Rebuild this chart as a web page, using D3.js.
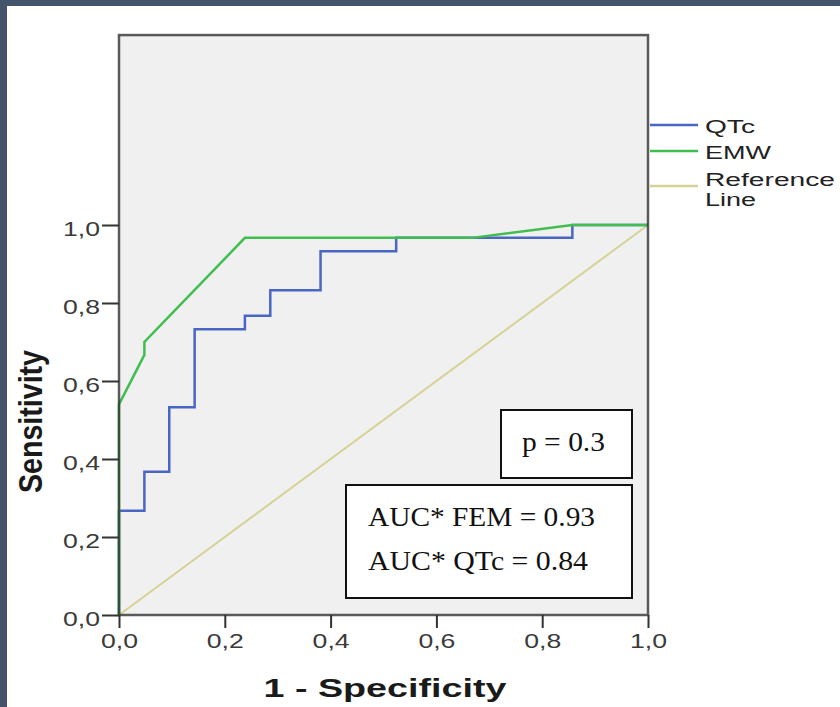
<!DOCTYPE html>
<html>
<head>
<meta charset="utf-8">
<script src="https://cdn.jsdelivr.net/npm/d3@7"></script>
<style>
  html, body { margin: 0; padding: 0; background: #fff; }
  svg { display: block; }
</style>
</head>
<body>
<svg id="chart" width="840" height="707"></svg>
<script>
// ---- data ----
const qtcFpr = [0, 0, 0.048, 0.048, 0.095, 0.095, 0.143, 0.143, 0.238, 0.238, 0.286, 0.286, 0.381, 0.381, 0.524, 0.524, 0.857, 0.857, 1];
const qtcTpr = [0, 0.267, 0.267, 0.367, 0.367, 0.533, 0.533, 0.733, 0.733, 0.767, 0.767, 0.833, 0.833, 0.933, 0.933, 0.967, 0.967, 1, 1];
const emwFpr = [0, 0, 0.048, 0.048, 0.238, 0.667, 0.857, 1];
const emwTpr = [0, 0.54, 0.667, 0.7, 0.967, 0.967, 1, 1];
const refFpr = [0, 1];
const refTpr = [0, 1];
const xTicks = [0, 0.2, 0.4, 0.6, 0.8, 1.0];
const yTicks = [0, 0.2, 0.4, 0.6, 0.8, 1.0];
const seriesNames = ["QTc", "EMW", "Reference", "Line"];
const annotP = ["p = 0.3"];
const annotAuc = ["AUC* FEM = 0.93", "AUC* QTc = 0.84"];
const frameTop = 1.487;

const colors = { qtc: "#4a66c4", emw: "#40be50", ref: "#d6d296" };

const svg = d3.select("#chart");

// dark border strips
svg.append("rect").attr("x", 0).attr("y", 0).attr("width", 840).attr("height", 6).attr("fill", "#44546a");
svg.append("rect").attr("x", 0).attr("y", 0).attr("width", 7).attr("height", 707).attr("fill", "#44546a");

const x = d3.scaleLinear().domain([0, 1]).range([119, 648]);
const y = d3.scaleLinear().domain([0, 1]).range([615, 225]);

// plot background
svg.append("rect")
  .attr("x", x(0)).attr("y", y(frameTop))
  .attr("width", x(1) - x(0)).attr("height", y(0) - y(frameTop))
  .attr("fill", "#f0f0f0");

const line = d3.line().x(d => x(d[0])).y(d => y(d[1]));
const zip = (a, b) => a.map((v, i) => [v, b[i]]);

svg.append("path").datum(zip(refFpr, refTpr)).attr("d", line)
  .attr("fill", "none").attr("stroke", colors.ref).attr("stroke-width", 2);
svg.append("path").datum(zip(qtcFpr, qtcTpr)).attr("d", line)
  .attr("fill", "none").attr("stroke", colors.qtc).attr("stroke-width", 2.5);
svg.append("path").datum(zip(emwFpr, emwTpr)).attr("d", line)
  .attr("fill", "none").attr("stroke", colors.emw).attr("stroke-width", 2.5);

// frame over lines
svg.append("rect")
  .attr("x", x(0)).attr("y", y(frameTop))
  .attr("width", x(1) - x(0)).attr("height", y(0) - y(frameTop))
  .attr("fill", "none").attr("stroke", "rgba(50,50,50,0.8)").attr("stroke-width", 2.5);

const fmt = d => d3.format(".1f")(d).replace(".", ",");
const sans = "Liberation Sans, Arial, sans-serif";
const serif = "Liberation Serif, Times New Roman, serif";

// y axis
const gy = svg.append("g").attr("transform", `translate(${x(0)},0)`)
  .call(d3.axisLeft(y).tickValues(yTicks).tickSize(17).tickPadding(2).tickFormat(fmt));
gy.select(".domain").remove();
gy.selectAll(".tick line").attr("stroke", "#333").attr("stroke-width", 2);
gy.selectAll(".tick text")
  .attr("font-family", sans).attr("font-size", 20)
  .attr("fill", "#3a3a3a").attr("dy", "0.52em")
  .attr("textLength", 37).attr("lengthAdjust", "spacingAndGlyphs");

// x axis
const gx = svg.append("g").attr("transform", `translate(0,${y(0)})`)
  .call(d3.axisBottom(x).tickValues(xTicks).tickSize(13).tickPadding(6).tickFormat(fmt));
gx.select(".domain").remove();
gx.selectAll(".tick line").attr("stroke", "#333").attr("stroke-width", 2);
gx.selectAll(".tick text")
  .attr("font-family", sans).attr("font-size", 20)
  .attr("fill", "#3a3a3a")
  .attr("textLength", 37).attr("lengthAdjust", "spacingAndGlyphs");

// axis titles
svg.append("text")
  .attr("x", 385).attr("y", 697)
  .attr("text-anchor", "middle")
  .attr("font-family", sans).attr("font-weight", "bold")
  .attr("font-size", 25).attr("fill", "#1a1a1a")
  .attr("textLength", 243).attr("lengthAdjust", "spacingAndGlyphs")
  .text("1 - Specificity");

svg.append("text")
  .attr("transform", "translate(42,421.5) rotate(-90)")
  .attr("text-anchor", "middle")
  .attr("font-family", sans).attr("font-weight", "bold")
  .attr("font-size", 33).attr("fill", "#1a1a1a")
  .attr("textLength", 143).attr("lengthAdjust", "spacingAndGlyphs")
  .text("Sensitivity");

// legend
const legItems = [
  { color: colors.qtc, ly: 125, labels: [{ t: seriesNames[0], by: 133, w: 50 }] },
  { color: colors.emw, ly: 151, labels: [{ t: seriesNames[1], by: 159, w: 66 }] },
  { color: colors.ref, ly: 186, labels: [{ t: seriesNames[2], by: 186, w: 130 }, { t: seriesNames[3], by: 206, w: 51 }] }
];
legItems.forEach(it => {
  svg.append("line").attr("x1", 650).attr("x2", 698).attr("y1", it.ly).attr("y2", it.ly)
    .attr("stroke", it.color).attr("stroke-width", 2.5);
  it.labels.forEach(l => {
    svg.append("text").attr("x", 705).attr("y", l.by)
      .attr("font-family", sans).attr("font-size", 18)
      .attr("fill", "#222")
      .attr("textLength", l.w).attr("lengthAdjust", "spacingAndGlyphs")
      .text(l.t);
  });
});

// annotation boxes
svg.append("rect").attr("x", 501).attr("y", 410).attr("width", 131).attr("height", 68)
  .attr("fill", "#fff").attr("stroke", "#111").attr("stroke-width", 2);
svg.append("text").attr("x", 522).attr("y", 451)
  .attr("font-family", serif).attr("font-size", 28)
  .attr("fill", "#111").attr("textLength", 83).attr("lengthAdjust", "spacingAndGlyphs")
  .text(annotP[0]);

svg.append("rect").attr("x", 346).attr("y", 485).attr("width", 286).attr("height", 113)
  .attr("fill", "#fff").attr("stroke", "#111").attr("stroke-width", 2);
const aucW = [227, 220];
const aucY = [526, 570];
annotAuc.forEach((t, i) => {
  svg.append("text").attr("x", 368).attr("y", aucY[i])
    .attr("font-family", serif).attr("font-size", 28)
    .attr("fill", "#111").attr("textLength", aucW[i]).attr("lengthAdjust", "spacingAndGlyphs")
    .text(t);
});
</script>
</body>
</html>
